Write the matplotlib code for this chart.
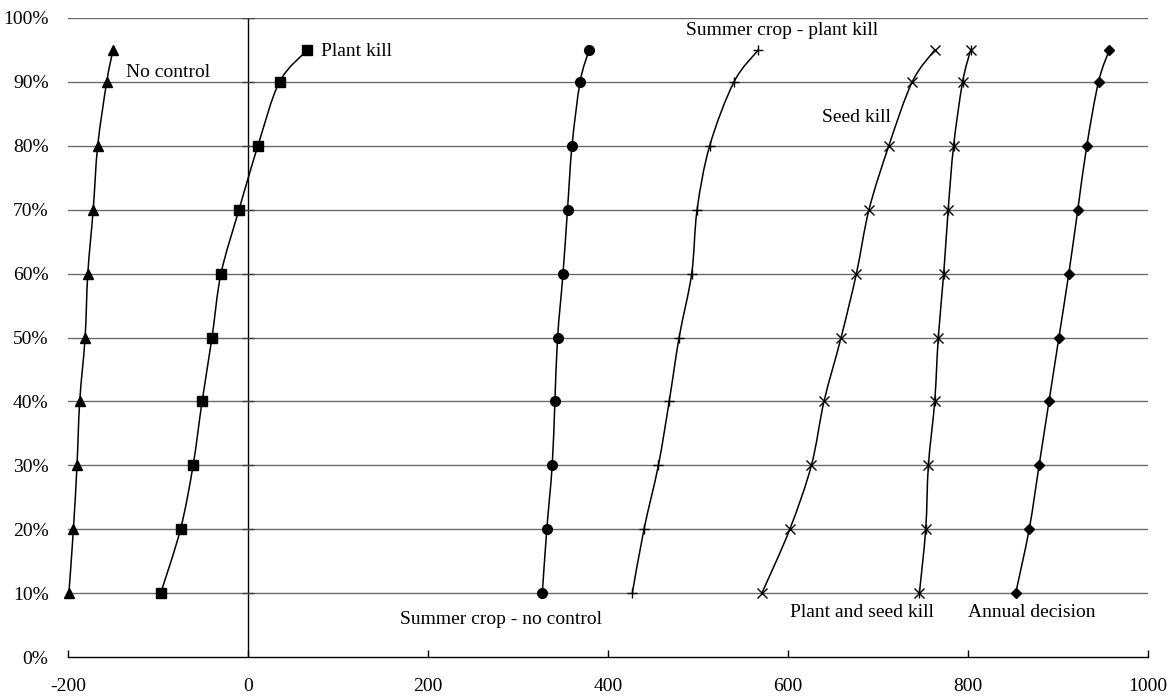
import matplotlib
matplotlib.use("Agg")
import matplotlib.pyplot as plt
import numpy as np
from matplotlib.path import Path
from matplotlib.patches import PathPatch
from matplotlib.ticker import FuncFormatter

plt.rcParams['font.family'] = ['Liberation Serif', 'DejaVu Serif']
plt.rcParams['axes.unicode_minus'] = False

# Cumulative probability levels (fraction)
levels = [0.10, 0.20, 0.30, 0.40, 0.50, 0.60, 0.70, 0.80, 0.90, 0.95]

no_control = [-199, -194, -190, -187, -181, -178, -172, -167, -157, -150]
plant_kill = [-97, -75, -61, -51, -40, -30, -10, 11, 35, 66]
summer_no_control = [327, 332, 338, 341, 344, 350, 355, 360, 369, 379]
summer_plant_kill = [427, 440, 456, 468, 479, 493, 499, 513, 540, 567]
seed_kill = [571, 602, 626, 640, 659, 676, 690, 712, 738, 763]
plant_seed_kill = [746, 753, 756, 763, 767, 773, 778, 784, 794, 803]
annual_decision = [853, 868, 879, 890, 901, 912, 922, 932, 945, 957]

series_labels = ["No control", "Plant kill", "Summer crop - no control",
                 "Summer crop - plant kill", "Seed kill", "Plant and seed kill",
                 "Annual decision"]
x_ticks = [-200, 0, 200, 400, 600, 800, 1000]
y_ticks = [0, 0.1, 0.2, 0.3, 0.4, 0.5, 0.6, 0.7, 0.8, 0.9, 1.0]

fig = plt.figure(figsize=(11.76, 6.98), dpi=100)
ax = fig.add_axes([68/1176, 1-657/698, (1148-68)/1176, (657-18)/698])
ax.set_xlim(-200, 1000)
ax.set_ylim(0, 1.0)

# gridlines
for yv in y_ticks[1:]:
    ax.axhline(yv, color='#6a6a6a', lw=1.0, zorder=1)
ax.axvline(0, color='black', lw=1.0, zorder=1)
# small tick marks crossing the vertical axis at x = 0
ax.plot([0] * (len(y_ticks) - 1), y_ticks[1:], ls='none', marker='_',
        ms=8, mew=1.0, color='#444444', zorder=2)


def smooth_path(xs, ys):
    pts = np.column_stack([xs, ys])
    n = len(pts)
    verts = [pts[0]]
    codes = [Path.MOVETO]
    for i in range(n - 1):
        p0 = pts[i - 1] if i > 0 else pts[i]
        p1 = pts[i]
        p2 = pts[i + 1]
        p3 = pts[i + 2] if i + 2 < n else pts[i + 1]
        c1 = p1 + (p2 - p0) / 6.0
        c2 = p2 - (p3 - p1) / 6.0
        verts += [c1, c2, p2]
        codes += [Path.CURVE4] * 3
    return Path(verts, codes)


def draw(xs, marker, ms, mew=1.0, extra=None):
    ax.add_patch(PathPatch(smooth_path(xs, levels), fc='none', ec='black',
                           lw=1.1, zorder=3))
    ax.plot(xs, levels, ls='none', marker=marker, ms=ms, color='black',
            mec='black', mew=mew, zorder=4, clip_on=False)
    if extra:
        ax.plot(xs, levels, ls='none', marker=extra, ms=ms, color='black',
                mec='black', mew=mew, zorder=4, clip_on=False)


draw(no_control, '^', 7.5)
draw(plant_kill, 's', 7)
draw(summer_no_control, 'o', 7)
draw(summer_plant_kill, '+', 7, mew=1.0)
draw(seed_kill, 'x', 7, mew=1.0)
draw(plant_seed_kill, 'x', 7, mew=1.0, extra='|')
draw(annual_decision, 'D', 5.5)

# axes styling
for s in ['top', 'right', 'left']:
    ax.spines[s].set_visible(False)
ax.spines['bottom'].set_linewidth(1.0)
ax.set_xticks(x_ticks)
ax.set_yticks(y_ticks)
ax.yaxis.set_major_formatter(FuncFormatter(lambda v, p: f"{int(round(v*100))}%"))
ax.tick_params(axis='x', direction='in', length=5, width=1, labelsize=14, pad=15)
ax.tick_params(axis='y', length=0, labelsize=14, pad=14)

fs = 14
ax.text(-136, 0.915, series_labels[0], fontsize=fs, va='center', ha='left')
ax.text(81, 0.947, series_labels[1], fontsize=fs, va='center', ha='left')
ax.text(169, 0.058, series_labels[2], fontsize=fs, va='center', ha='left')
ax.text(487, 0.981, series_labels[3], fontsize=fs, va='center', ha='left')
ax.text(638, 0.845, series_labels[4], fontsize=fs, va='center', ha='left')
ax.text(602, 0.070, series_labels[5], fontsize=fs, va='center', ha='left')
ax.text(800, 0.070, series_labels[6], fontsize=fs, va='center', ha='left')

fig.savefig('out.png', dpi=100, facecolor='white')
